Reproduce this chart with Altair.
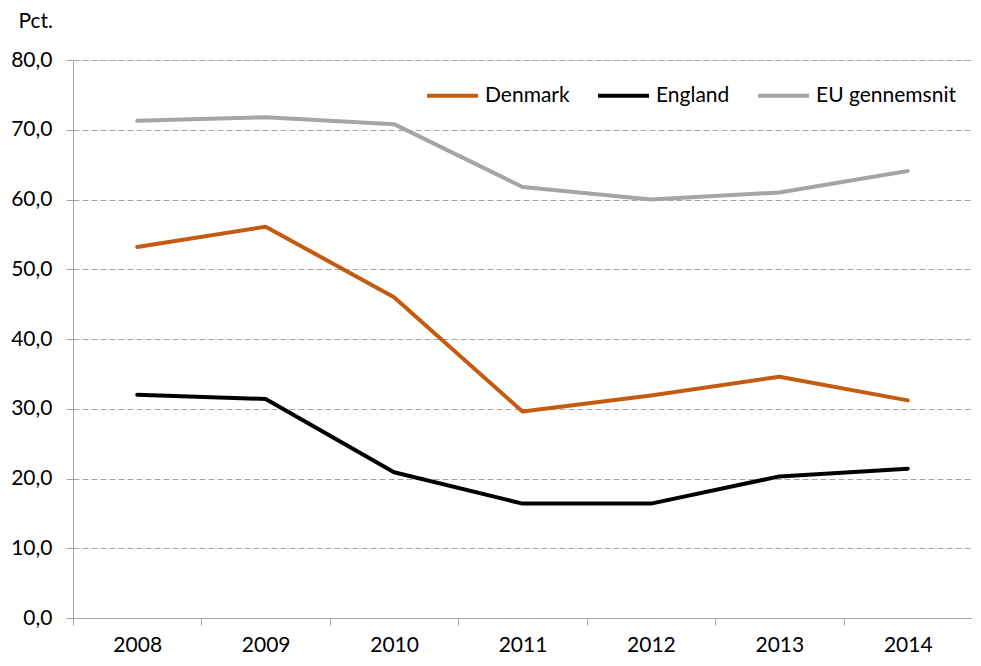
import altair as alt
import pandas as pd

years = ["2008", "2009", "2010", "2011", "2012", "2013", "2014"]
denmark = [53.2, 56.1, 46.0, 29.6, 31.9, 34.6, 31.2]
england = [32.0, 31.4, 20.9, 16.4, 16.4, 20.3, 21.4]
eu_avg = [71.3, 71.8, 70.8, 61.8, 60.0, 61.0, 64.1]

series_names = ["Denmark", "England", "EU gennemsnit"]
series_colors = ["#C55A11", "#000000", "#A5A5A5"]
y_ticks = [0, 10, 20, 30, 40, 50, 60, 70, 80]

rows = []
for name, vals in zip(series_names, [denmark, england, eu_avg]):
    for yr, v in zip(years, vals):
        rows.append({"year": yr, "series": name, "value": v})
df = pd.DataFrame(rows)

FONT = "Lato"
GRAY = "#A6A6A6"

chart = alt.Chart(df).mark_line(strokeWidth=4, strokeCap="round", strokeJoin="round").encode(
    x=alt.X(
        "year:O",
        sort=years,
        bandPosition=0.5,
        scale=alt.Scale(type="band", paddingInner=0, paddingOuter=0),
        axis=alt.Axis(
            title=None, tickBand="extent", grid=False, domainColor=GRAY,
            tickColor=GRAY, tickSize=7, labelAngle=0, labelPadding=9,
            labelFontSize=21, labelFont=FONT, labelColor="black",
        ),
    ),
    y=alt.Y(
        "value:Q",
        scale=alt.Scale(domain=[0, 80], nice=False),
        axis=alt.Axis(
            values=y_ticks,
            labelExpr="replace(format(datum.value, '.1f'), '.', ',')",
            title="Pct.", titleAngle=0, titleAlign="left", titleBaseline="alphabetic",
            titleX=-55, titleY=-33, titleFont=FONT, titleFontSize=21,
            titleFontWeight="normal", titleColor="black",
            gridDash=[6, 3], gridColor=GRAY, domainColor=GRAY,
            tickColor=GRAY, tickSize=7, labelPadding=14,
            labelFontSize=21, labelFont=FONT, labelColor="black",
        ),
    ),
    color=alt.Color(
        "series:N",
        sort=series_names,
        scale=alt.Scale(domain=series_names, range=series_colors),
        legend=alt.Legend(
            title=None, orient="none", legendX=352, legendY=8,
            direction="horizontal", symbolType="stroke", symbolSize=2600,
            symbolStrokeWidth=4, labelFontSize=21, labelFont=FONT,
            labelColor="black", columnPadding=20, labelOffset=5,
        ),
    ),
).properties(
    width=899,
    height=558,
    autosize=alt.AutoSizeParams(type="none"),
    padding={"left": 65, "top": 52, "right": 0, "bottom": 38},
).configure_view(stroke=None).configure(background="white")

chart.save("out.html", embed_options={"renderer": "svg", "actions": False})
